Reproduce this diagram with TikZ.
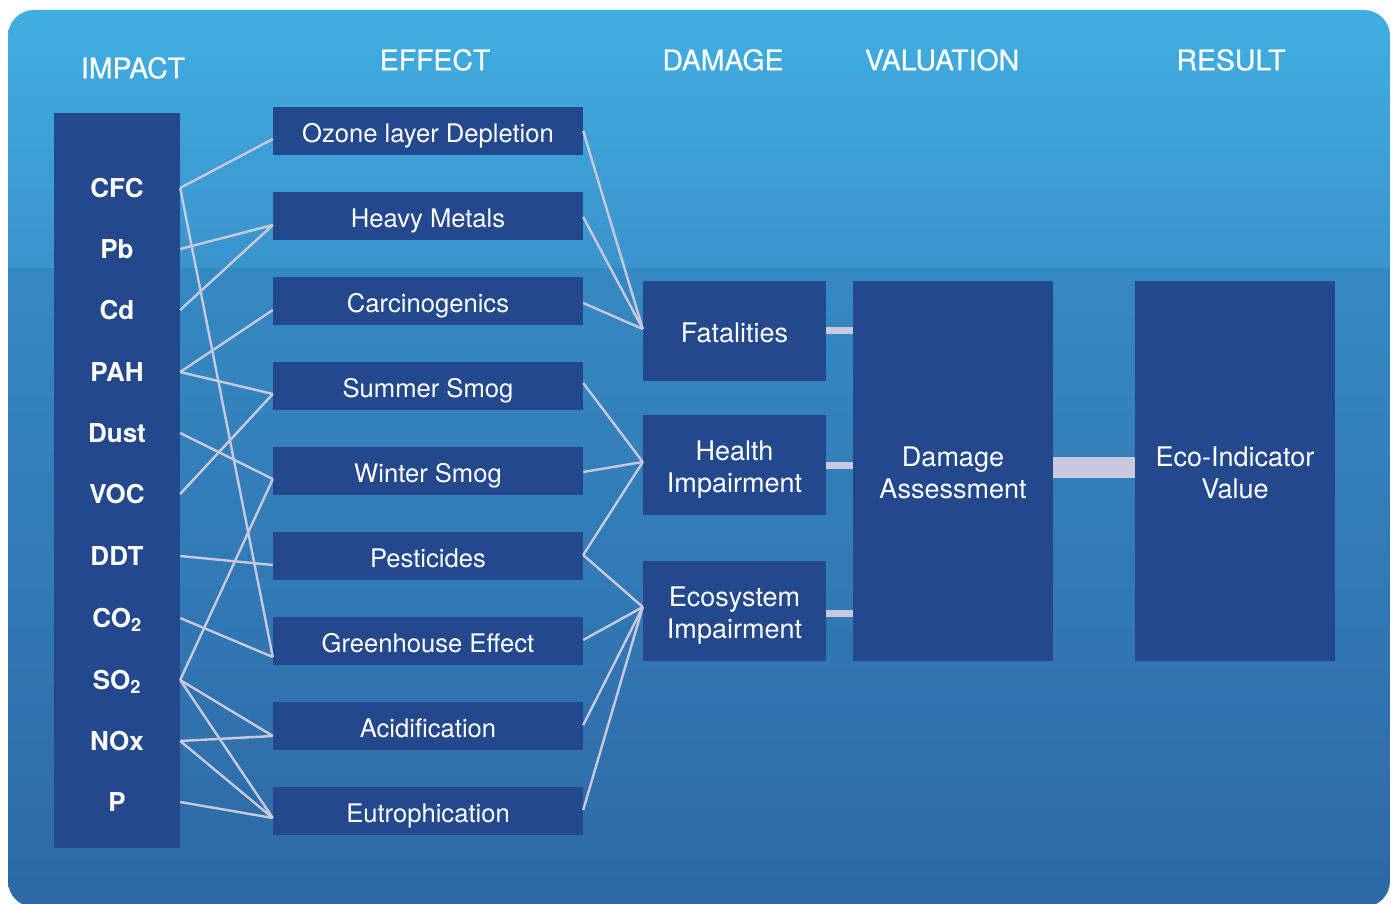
\documentclass[tikz,border=0pt]{standalone}
\usepackage{fontspec}
\setmainfont{TeX Gyre Heros}
\newfontfamily\headfont{TeX Gyre Heros}[FakeBold=0.6]
\usetikzlibrary{calc}

\definecolor{bgtop}{HTML}{40AFE2}
\definecolor{bgband}{HTML}{3B93CC}
\definecolor{bglowtop}{HTML}{3589C3}
\definecolor{bglowmid}{HTML}{2F76B1}
\definecolor{bglowbot}{HTML}{2E68A6}
\definecolor{boxblue}{HTML}{23498C}
\definecolor{linkline}{HTML}{C8C9DF}

\begin{document}
\begin{tikzpicture}[x=1pt,y=-1pt,
  header/.style={text=white, inner sep=0pt, text height=20.5pt, text depth=0pt,
    font=\headfont\fontsize{28.4}{34}\selectfont},
  impactbox/.style={fill=boxblue, inner sep=0pt, minimum width=126pt, minimum height=735pt},
  impactlbl/.style={text=white, inner sep=0pt, text height=18.7pt, text depth=0pt,
    font=\bfseries\fontsize{26}{30}\selectfont},
  effectbox/.style={fill=boxblue, text=white, inner sep=0pt, minimum width=310pt,
    minimum height=48pt, text height=22.4pt, text depth=0pt,
    font=\fontsize{25.6}{30}\selectfont},
  dmgbox/.style={fill=boxblue, text=white, inner sep=0pt, minimum width=183pt,
    minimum height=100pt, text height=23.2pt, text depth=0pt,
    font=\fontsize{27}{32}\selectfont},
  bigbox/.style={fill=boxblue, inner sep=0pt, minimum width=200pt, minimum height=380pt},
  boxtext/.style={text=white, inner sep=0pt, align=center,
    font=\fontsize{27}{32}\selectfont},
  conn/.style={draw=linkline, line width=2.4pt},
  bar/.style={draw=linkline, line width=7pt},
  widebar/.style={draw=linkline, line width=21pt}]

\useasboundingbox (0,0) rectangle (1391,904);

% rounded background panel with its two-tone gradient
\begin{scope}
  \clip[rounded corners=26pt] (8,10) rectangle (1390,907);
  \shade[top color=bgtop, bottom color=bgband] (0,0) rectangle (1391,268.5);
  \shade[top color=bglowtop, middle color=bglowmid, bottom color=bglowbot]
    (0,268.5) rectangle (1391,907);
\end{scope}

% column headers
\node[header] (h-impact) at (133,68) {IMPACT};
\node[header] (h-effect) at (435,60) {EFFECT};
\node[header] (h-damage) at (723,60) {DAMAGE};
\node[header] (h-valuation) at (942,60) {VALUATION};
\node[header] (h-result) at (1231,60) {RESULT};

% impact column
\node[impactbox] (impact) at (117,480.5) {};
\node[impactlbl] (cfc) at (117,188) {CFC};
\node[impactlbl] (pb) at (117,249) {Pb};
\node[impactlbl] (cd) at (117,310) {Cd};
\node[impactlbl] (pah) at (117,372) {PAH};
\node[impactlbl] (dust) at (117,433) {Dust};
\node[impactlbl] (voc) at (117,494) {VOC};
\node[impactlbl] (ddt) at (117,556) {DDT};
\node[impactlbl] (co2) at (117,618) {CO\textsubscript{2}};
\node[impactlbl] (so2) at (117,680) {SO\textsubscript{2}};
\node[impactlbl] (nox) at (117,741) {NOx};
\node[impactlbl] (p) at (117,802) {P};

% effect column
\node[effectbox] (ozone) at (428,131) {Ozone layer Depletion};
\node[effectbox] (metals) at (428,216) {Heavy Metals};
\node[effectbox] (carc) at (428,301) {Carcinogenics};
\node[effectbox] (summer) at (428,386) {Summer Smog};
\node[effectbox] (winter) at (428,471) {Winter Smog};
\node[effectbox] (pest) at (428,556) {Pesticides};
\node[effectbox] (green) at (428,641) {Greenhouse Effect};
\node[effectbox] (acid) at (428,726) {Acidification};
\node[effectbox] (eutro) at (428,811) {Eutrophication};

% damage column
\node[dmgbox] (fatal) at (734.5,331) {Fatalities};
\node[dmgbox] (health) at (734.5,465) {};
\node[boxtext] (health-t) at ([yshift=-4.7pt]health.center) {Health\\Impairment};
\node[dmgbox] (ecosys) at (734.5,611) {};
\node[boxtext] (ecosys-t) at ([yshift=-4.7pt]ecosys.center) {Ecosystem\\Impairment};

% valuation and result
\node[bigbox] (assess) at (953,471) {};
\node[boxtext] (assess-t) at ([yshift=-2pt]assess.center) {Damage\\Assessment};
\node[bigbox] (eco) at (1235,471) {};
\node[boxtext] (eco-t) at ([yshift=-2pt]eco.center) {Eco-Indicator\\Value};

% impact -> effect links
\draw[conn] (impact.east |- cfc) -- ($(ozone.west)+(0,8)$);
\draw[conn] (impact.east |- cfc) -- ($(green.west)+(0,16)$);
\draw[conn] (impact.east |- pb) -- ($(metals.west)+(0,9)$);
\draw[conn] (impact.east |- cd) -- ($(metals.west)+(0,9)$);
\draw[conn] (impact.east |- pah) -- ($(carc.west)+(0,9)$);
\draw[conn] (impact.east |- pah) -- ($(summer.west)+(0,8)$);
\draw[conn] (impact.east |- voc) -- ($(summer.west)+(0,8)$);
\draw[conn] (impact.east |- dust) -- ($(winter.west)+(0,8)$);
\draw[conn] (impact.east |- so2) -- ($(winter.west)+(0,8)$);
\draw[conn] (impact.east |- ddt) -- ($(pest.west)+(0,9)$);
\draw[conn] (impact.east |- co2) -- ($(green.west)+(0,16)$);
\draw[conn] (impact.east |- so2) -- ($(acid.west)+(0,10)$);
\draw[conn] (impact.east |- so2) -- ($(eutro.west)+(0,7)$);
\draw[conn] (impact.east |- nox) -- ($(acid.west)+(0,10)$);
\draw[conn] (impact.east |- nox) -- ($(eutro.west)+(0,7)$);
\draw[conn] (impact.east |- p) -- ($(eutro.west)+(0,7)$);

% effect -> damage links
\draw[conn] (ozone.east) -- ($(fatal.west)+(0,-2)$);
\draw[conn] ($(metals.east)+(0,1)$) -- ($(fatal.west)+(0,-2)$);
\draw[conn] ($(carc.east)+(0,2)$) -- ($(fatal.west)+(0,-2)$);
\draw[conn] ($(summer.east)+(0,-3)$) -- ($(health.west)+(0,-3)$);
\draw[conn] ($(winter.east)+(0,1)$) -- ($(health.west)+(0,-3)$);
\draw[conn] ($(pest.east)+(0,-1)$) -- ($(health.west)+(0,-3)$);
\draw[conn] ($(pest.east)+(0,-1)$) -- ($(ecosys.west)+(0,-4)$);
\draw[conn] ($(green.east)+(0,-1)$) -- ($(ecosys.west)+(0,-4)$);
\draw[conn] ($(acid.east)+(0,-1)$) -- ($(ecosys.west)+(0,-4)$);
\draw[conn] ($(eutro.east)+(0,-1)$) -- ($(ecosys.west)+(0,-4)$);

% damage -> valuation -> result bars
\draw[bar] ($(fatal.east)+(0,-0.5)$) -- ($(assess.west |- fatal.east)+(0,-0.5)$);
\draw[bar] ($(health.east)+(0,0.5)$) -- ($(assess.west |- health.east)+(0,0.5)$);
\draw[bar] ($(ecosys.east)+(0,2.5)$) -- ($(assess.west |- ecosys.east)+(0,2.5)$);
\draw[widebar] ($(assess.east)+(0,-3.5)$) -- ($(eco.west)+(0,-3.5)$);
\end{tikzpicture}
\end{document}
